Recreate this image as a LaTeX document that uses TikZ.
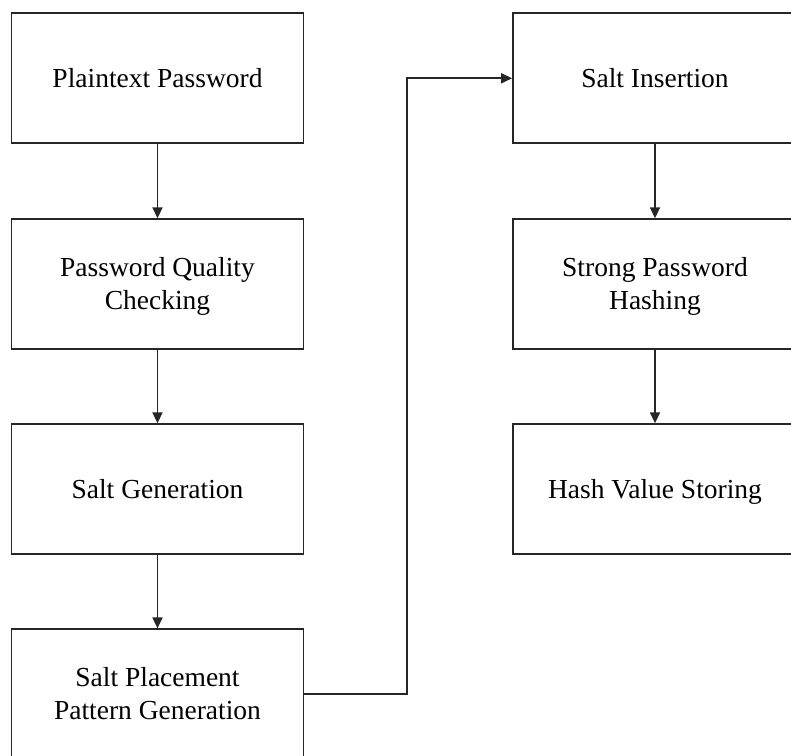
\documentclass[tikz,border=0pt]{standalone}
\usepackage{fontspec}
\setmainfont{Liberation Serif}
\usetikzlibrary{arrows.meta}
\begin{document}
\begin{tikzpicture}[x=1pt,y=-1pt,
  stepbox/.style={draw=black!85, line width=1.8pt, rectangle,
    minimum width=292pt, minimum height=130pt, inner sep=0pt,
    align=center, font=\fontsize{27.5}{33}\selectfont,
    text height=18pt, text depth=0pt},
  twoline/.style={text height=51pt},
  rightbox/.style={stepbox, minimum width=284pt},
  flow/.style={draw=black!85, line width=1.8pt,
    -{Triangle[length=11pt,width=10pt]}}]
\useasboundingbox (0,0) rectangle (791,755);
\clip (0,0) rectangle (791,755);
% left column
\node[stepbox] (p1) at (157.5,78.3) {Plaintext Password};
\node[stepbox, twoline] (p2) at (157.5,284.2) {Password Quality\\Checking};
\node[stepbox] (p3) at (157.5,489.2) {Salt Generation};
\node[stepbox, twoline] (p4) at (157.5,694.3) {Salt Placement\\Pattern Generation};
% right column
\node[rightbox] (s1) at (655,78.3) {Salt Insertion};
\node[rightbox, twoline] (s2) at (655,284.2) {Strong Password\\Hashing};
\node[rightbox] (s3) at (655,489.2) {Hash Value Storing};
% connectors
\draw[flow] (p1) -- (p2);
\draw[flow] (p2) -- (p3);
\draw[flow] (p3) -- (p4);
\coordinate (bend) at (407,78.3);
\draw[flow] (p4.east) -| (bend) -- (s1.west);
\draw[flow] (s1) -- (s2);
\draw[flow] (s2) -- (s3);
\end{tikzpicture}
\end{document}
